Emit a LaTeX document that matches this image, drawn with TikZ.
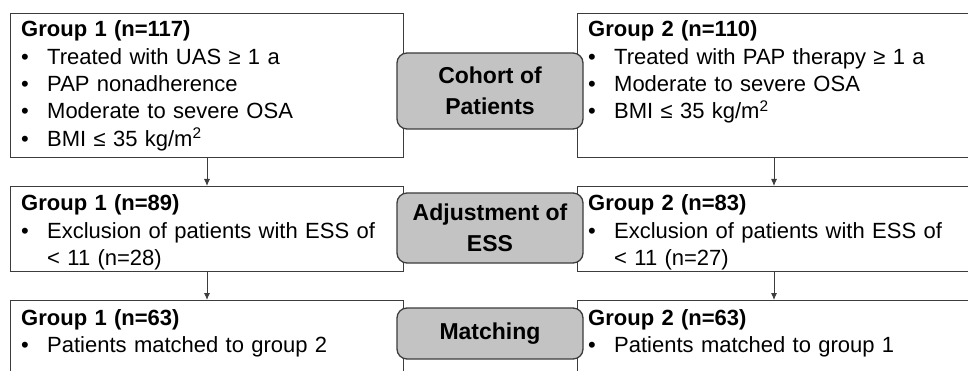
\documentclass[tikz,border=0pt]{standalone}
\usepackage{fontspec}
\setmainfont{Liberation Sans}
\usetikzlibrary{arrows.meta}

\definecolor{boxline}{HTML}{3C3C3C}
\definecolor{stagefill}{HTML}{C3C3C3}
\newcommand{\bul}{\makebox[26pt][l]{\textbullet}}

\tikzset{
  groupbox/.style={draw=boxline, line width=1pt, anchor=north west,
    minimum width=393pt, inner sep=0pt},
  grouptext/.style={anchor=base west, inner sep=0pt, text width=370pt,
    align=left, font=\fontsize{22}{27.3}\selectfont},
  stagebox/.style={draw=boxline, line width=1.3pt, fill=stagefill,
    rounded corners=10pt, minimum width=186pt, inner sep=0pt,
    align=center, font=\fontsize{23}{30.5}\selectfont\bfseries},
  flow/.style={draw=boxline, line width=0.9pt, -{Latex[length=7pt,width=6pt]}}
}

\begin{document}
\begin{tikzpicture}[x=1pt,y=-1pt]
    \path [use as bounding box, clip] (0,0) rectangle (968,371);

		% linke Spalte
		\node [groupbox, minimum height=144pt] (l1) at (10,13) {};
		\node [groupbox, minimum height=85pt] (l2) at (10,186) {};
		\node [groupbox, minimum height=90pt] (l3) at (10,300) {};
		% rechte Spalte
		\node [groupbox, minimum height=144pt] (r1) at (577,13) {};
		\node [groupbox, minimum height=85pt] (r2) at (577,186) {};
		\node [groupbox, minimum height=90pt] (r3) at (577,300) {};

		\node [grouptext] (l1t) at (21,37) {\textbf{Group 1 (n=117)}\\
		  \bul Treated with UAS ≥ 1 a\\
		  \bul PAP nonadherence\\
		  \bul Moderate to severe OSA\\
		  \bul BMI ≤ 35 kg/m\textsuperscript{2}};
		\node [grouptext] (l2t) at (21,211) {\textbf{Group 1 (n=89)}\\
		  \bul Exclusion of patients with ESS of\\
		  \hspace*{26pt}< 11 (n=28)};
		\node [grouptext] (l3t) at (21,325) {\textbf{Group 1 (n=63)}\\
		  \bul Patients matched to group 2};

		\node [grouptext] (r1t) at (588,37) {\textbf{Group 2 (n=110)}\\
		  \bul Treated with PAP therapy ≥ 1 a\\
		  \bul Moderate to severe OSA\\
		  \bul BMI ≤ 35 kg/m\textsuperscript{2}};
		\node [grouptext] (r2t) at (588,211) {\textbf{Group 2 (n=83)}\\
		  \bul Exclusion of patients with ESS of\\
		  \hspace*{26pt}< 11 (n=27)};
		\node [grouptext] (r3t) at (588,325) {\textbf{Group 2 (n=63)}\\
		  \bul Patients matched to group 1};

		\draw [flow] (l1) -- (l2);
		\draw [flow] (l2) -- (l3);
		\draw [flow] (r1) -- (r2);
		\draw [flow] (r2) -- (r3);

		% Stufen in der Mitte
		\node [stagebox, minimum height=76pt] (cohort) at (490,91) {Cohort of\\Patients};
		\node [stagebox, minimum height=70pt] (adjust) at (490,228) {Adjustment of\\ESS};
		\node [stagebox, minimum height=51pt] (match) at (490,333.5) {Matching};
\end{tikzpicture}
\end{document}
